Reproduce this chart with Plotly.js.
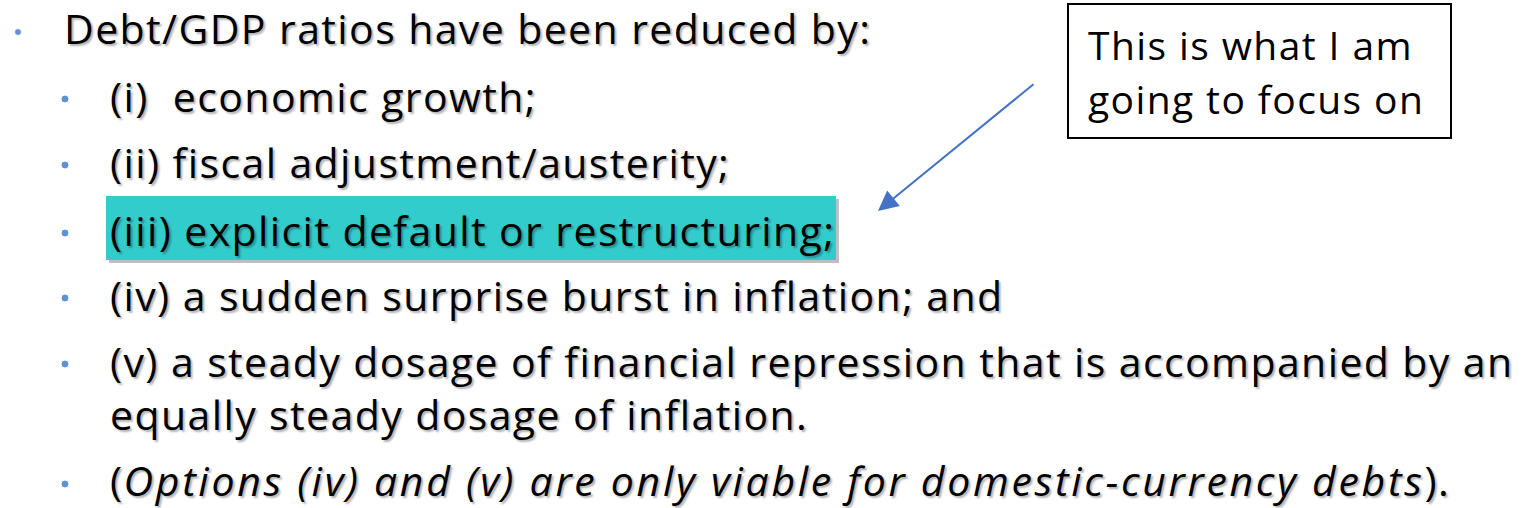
<!DOCTYPE html>
<html><head><meta charset="utf-8">
<script src="https://cdn.plot.ly/plotly-3.0.1.min.js"></script>
<style>
html,body{margin:0;padding:0;background:#fff;overflow:hidden}
.annotation-text{letter-spacing:1.4px}
</style>
</head><body><div id="chart" style="width:1522px;height:508px"></div>
<script>
// Slide content
const lineTexts = [
  "Debt/GDP ratios have been reduced by:",
  "(i)&nbsp;&nbsp;economic growth;",
  "(ii) fiscal adjustment/austerity;",
  "(iii) explicit default or restructuring;",
  "(iv) a sudden surprise burst in inflation; and",
  "(v) a steady dosage of financial repression that is accompanied by an<br>equally steady dosage of inflation.",
  "(<i><span style=\"letter-spacing:2.7px\">Options (iv) and (v) are only viable for domestic-currency debts</span></i>)."
];
const lineLevels = [1, 2, 2, 2, 2, 2, 2];
const highlightedLine = 3;
const noteLines = ["This is what I am", "going to focus on"];

// layout constants (pixels)
const W = 1522, H = 508;
const lineY = [28, 96, 162, 230, 295, 387, 480];
const bulletY = [32, 99, 165, 233, 298, 364, 484];
const noteY = [44, 98];
const textX = {1: 62, 2: 108};
const bulletX = {1: 18, 2: 65};
const bulletSize = {1: 7, 2: 8};
const FONT = "'Open Sans', sans-serif";
const SHADOW = "2px 2px 2px rgba(0,0,0,0.30)";

const annotations = [];
const shapes = [];
const bx = [], by = [], bs = [];

lineTexts.forEach((t, i) => {
  const lvl = lineLevels[i];
  annotations.push({
    x: textX[lvl], y: lineY[i], xref: 'x', yref: 'y',
    xanchor: 'left', yanchor: 'middle', showarrow: false, align: 'left',
    text: t,
    font: {family: FONT, size: 41, color: '#000', shadow: SHADOW}
  });
  bx.push(bulletX[lvl]); by.push(bulletY[i]); bs.push(bulletSize[lvl]);
});

// highlight for line (iii)
shapes.push({type: 'rect', xref: 'x', yref: 'y', x0: 109, x1: 839, y0: 199, y1: 263,
  fillcolor: 'rgba(0,0,0,0.25)', line: {width: 0}, layer: 'below'});
shapes.push({type: 'rect', xref: 'x', yref: 'y', x0: 106, x1: 836, y0: 196, y1: 260,
  fillcolor: '#33CCCC', line: {width: 0}, layer: 'below'});

// note box
shapes.push({type: 'rect', xref: 'x', yref: 'y', x0: 1068, x1: 1451, y0: 4, y1: 138,
  fillcolor: '#fff', line: {color: '#000', width: 2}});
noteLines.forEach((t, i) => {
  annotations.push({
    x: 1086, y: noteY[i], xref: 'x', yref: 'y', xanchor: 'left', yanchor: 'middle',
    showarrow: false, text: t,
    font: {family: FONT, size: 39, color: '#000'}
  });
});

// arrow
annotations.push({
  x: 878, y: 211, ax: 1035, ay: 83, xref: 'x', yref: 'y', axref: 'x', ayref: 'y',
  text: '', showarrow: true, arrowhead: 2, arrowsize: 2, arrowwidth: 2,
  arrowcolor: '#4472C4'
});

const traces = [{
  type: 'scatter', mode: 'markers', x: bx, y: by, hoverinfo: 'skip',
  marker: {color: '#1A66C4', size: bs}
}];

const layout = {
  width: W, height: H, margin: {l: 0, r: 0, t: 0, b: 0},
  paper_bgcolor: '#fff', plot_bgcolor: '#fff', showlegend: false,
  xaxis: {range: [0, W], visible: false, fixedrange: true},
  yaxis: {range: [H, 0], visible: false, fixedrange: true},
  shapes: shapes, annotations: annotations
};
Plotly.newPlot('chart', traces, layout, {displayModeBar: false, staticPlot: true});
</script></body></html>
